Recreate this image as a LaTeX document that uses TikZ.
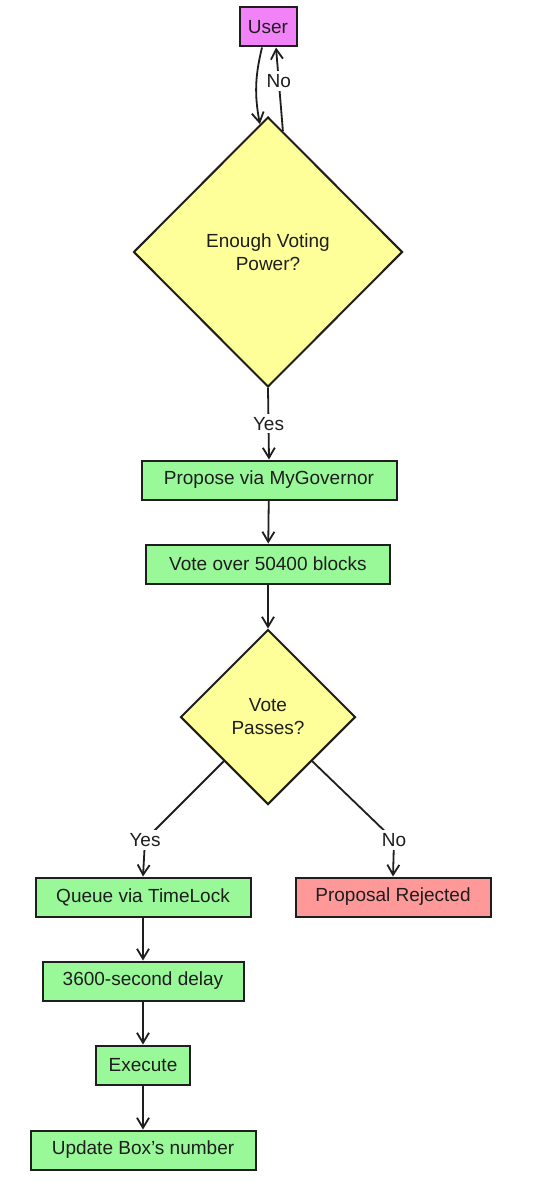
\documentclass[tikz,border=0pt]{standalone}
\usepackage{fontspec}
\setmainfont{Liberation Sans}
\usetikzlibrary{shapes.geometric,arrows.meta,calc}

\definecolor{okgreen}{RGB}{153,249,153}
\definecolor{askyellow}{RGB}{255,255,153}
\definecolor{userpink}{RGB}{242,130,247}
\definecolor{badred}{RGB}{255,153,153}
\definecolor{ink}{RGB}{30,30,30}

\begin{document}
\begin{tikzpicture}[x=1pt,y=-1pt,
  txt/.style={font=\fontsize{19}{23}\selectfont, text=ink},
  box/.style={txt, draw=ink, line width=2pt, minimum height=39pt, inner sep=2pt},
  ask/.style={txt, diamond, draw=ink, line width=2pt, fill=askyellow, align=center, inner sep=0pt},
  lbl/.style={txt, fill=white, inner sep=3pt},
  arr/.style={draw=ink, line width=1.8pt, -{Straight Barb[length=10pt,width=12pt]}}]
  \useasboundingbox[fill=white] (0,0) rectangle (534,1204);

  % Start
  \node[box, fill=userpink, minimum width=57pt] (user) at (268,27) {User};
  \node[ask, minimum width=269pt, minimum height=270pt] (power) at (268,252) {Enough Voting\\Power?};

  % Proposal and vote
  \node[box, fill=okgreen, minimum width=255pt] (propose) at (269,480) {Propose via MyGovernor};
  \node[box, fill=okgreen, minimum width=244pt] (vote) at (268,564) {Vote over 50400 blocks};
  \node[ask, minimum width=175pt, minimum height=175pt] (passes) at (268,717) {Vote\\Passes?};

  % Outcomes
  \node[box, fill=okgreen, minimum width=215pt] (queue) at (143,897) {Queue via TimeLock};
  \node[box, fill=badred, minimum width=195pt] (rejected) at (393,897) {Proposal Rejected};
  \node[box, fill=okgreen, minimum width=201pt] (delay) at (143,981) {3600-second delay};
  \node[box, fill=okgreen, minimum width=94pt] (execute) at (143,1065) {Execute};
  \node[box, fill=okgreen, minimum width=225pt] (update) at (143,1150) {Update Box's number};

  % Branch bends
  \coordinate (yesturn) at (145,840);
  \coordinate (noturn) at (394,840);

  % Arrows
  \draw[arr] ([xshift=-6pt]user.south) to[bend right=12] ($(power.north)!0.06!(power.west)$);
  \draw[arr] ($(power.north)!0.11!(power.east)$) -- node[lbl, pos=0.6] {No} ([xshift=8pt]user.south);
  \draw[arr] (power.south) -- node[lbl] {Yes} (propose.north);
  \draw[arr] (propose) -- (vote);
  \draw[arr] (vote) -- (passes);
  \draw[arr] (passes.south west) -- (yesturn) node[lbl] {Yes} -- (queue.north);
  \draw[arr] (passes.south east) -- (noturn) node[lbl] {No} -- (rejected.north);
  \draw[arr] (queue) -- (delay);
  \draw[arr] (delay) -- (execute);
  \draw[arr] (execute) -- (update);
\end{tikzpicture}
\end{document}
